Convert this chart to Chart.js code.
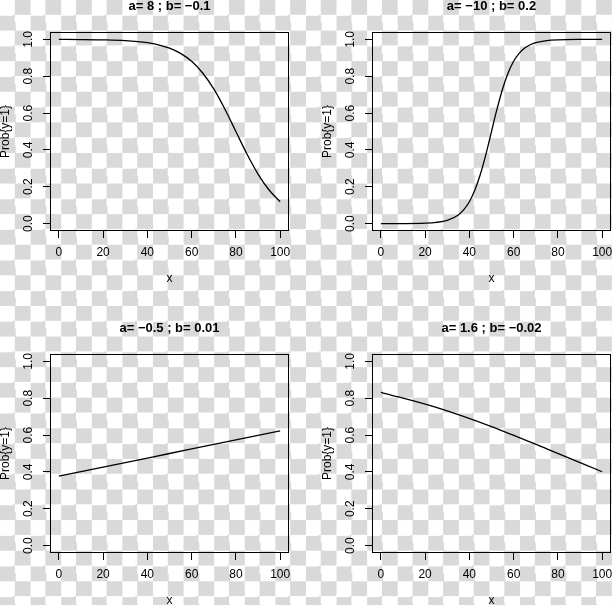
<!DOCTYPE html>
<html>
<head>
<meta charset="utf-8">
<script src="https://cdn.jsdelivr.net/npm/chart.js@4"></script>
<style>
  html, body { margin: 0; padding: 0; width: 612px; height: 605px; overflow: hidden; }
  body {
    background: repeating-conic-gradient(#d9d9d9 0% 25%, #ffffff 0% 50%) 0 0 / 30.6px 30.6px;
    position: relative;
  }
  .panel { position: absolute; width: 300px; height: 290px; }
  .panel canvas { display: block; }
</style>
</head>
<body>
<div class="panel" style="left:0;top:0"><canvas id="c1" width="300" height="290"></canvas></div>
<div class="panel" style="left:322px;top:0"><canvas id="c2" width="300" height="290"></canvas></div>
<div class="panel" style="left:0;top:322px"><canvas id="c3" width="300" height="290"></canvas></div>
<div class="panel" style="left:322px;top:322px"><canvas id="c4" width="300" height="290"></canvas></div>
<script>
// ---- data ----
const titles = ["a= 8 ; b= \u22120.1", "a= \u221210 ; b= 0.2", "a= \u22120.5 ; b= 0.01", "a= 1.6 ; b= \u22120.02"];

const x1 = [0, 10, 20, 30, 40, 45, 50, 55, 60, 65, 70, 75, 80, 85, 90, 95, 100];
const y1 = [0.9997, 0.9991, 0.9975, 0.9933, 0.982, 0.9707, 0.9526, 0.924, 0.881, 0.8176, 0.731, 0.6225, 0.5, 0.3775, 0.269, 0.1824, 0.119];

const x2 = [0, 10, 20, 25, 30, 35, 37.5, 40, 42.5, 45, 47.5, 50, 52.5, 55, 57.5, 60, 62.5, 65, 67.5, 70, 75, 80, 90, 100];
const y2 = [0.0000, 0.0003, 0.0025, 0.0067, 0.018, 0.047, 0.0759, 0.119, 0.1824, 0.269, 0.3775, 0.5, 0.6225, 0.731, 0.8176, 0.881, 0.924, 0.953, 0.9707, 0.982, 0.9933, 0.9975, 0.9997, 1.0];

const x3 = [0, 25, 50, 75, 100];
const y3 = [0.3775, 0.4378, 0.5, 0.5622, 0.6225];

const x4 = [0, 25, 50, 75, 100];
const y4 = [0.832, 0.750, 0.646, 0.525, 0.401];

const xTicks = [0, 20, 40, 60, 80, 100];
const yTicks = [0, 0.2, 0.4, 0.6, 0.8, 1.0];
const xTitle = "x";
const yTitle = "Prob{y=1}";

// ---- drawing ----
const FONT = "'Liberation Sans', Arial, Helvetica, sans-serif";

const boxPlugin = {
  id: 'rbox',
  afterDatasetsDraw(chart) {
    const {ctx, chartArea: a} = chart;
    ctx.save();
    ctx.strokeStyle = '#000';
    ctx.lineWidth = 1;
    ctx.strokeRect(Math.round(a.left) + 0.5, Math.round(a.top) + 0.5,
                   Math.round(a.right - a.left) - 1, Math.round(a.bottom - a.top) - 1);
    ctx.restore();
  }
};

function makeChart(id, title, xs, ys) {
  const data = xs.map((x, i) => ({x: x, y: ys[i]}));
  return new Chart(document.getElementById(id), {
    type: 'line',
    data: { datasets: [{
      data: data,
      borderColor: '#000',
      borderWidth: 1.3,
      pointRadius: 0,
      fill: false,
      cubicInterpolationMode: 'monotone'
    }]},
    options: {
      responsive: false,
      animation: false,
      events: [],
      layout: { padding: { top: 0, left: 0, right: 11, bottom: 0 } },
      plugins: {
        legend: { display: false },
        tooltip: { enabled: false },
        title: {
          display: true, text: title, color: '#000', fullSize: false,
          font: { family: FONT, size: 13, weight: 'bold', lineHeight: 1 },
          padding: { top: 0, bottom: 19 }
        }
      },
      scales: {
        x: {
          type: 'linear', min: -4, max: 104,
          afterBuildTicks: s => { s.ticks = xTicks.map(v => ({value: v})); },
          afterFit: s => { s.height = 59; s.paddingLeft = 0; s.paddingRight = 0; },
          ticks: { color: '#000', font: { family: FONT, size: 12 }, padding: 7,
                   maxRotation: 0, minRotation: 0, autoSkip: false,
                   callback: v => String(v) },
          grid: { display: true, drawOnChartArea: false, drawTicks: true, tickLength: 7, color: '#000', lineWidth: 1 },
          border: { display: false },
          title: { display: true, text: xTitle, color: '#000',
                   font: { family: FONT, size: 12, lineHeight: 1 }, padding: { top: 0, bottom: 5 } }
        },
        y: {
          type: 'linear', min: -0.04, max: 1.04,
          afterBuildTicks: s => { s.ticks = yTicks.map(v => ({value: v})); },
          afterFit: s => { s.width = 50; s.paddingTop = 0; s.paddingBottom = 0; },
          ticks: { color: '#000', font: { family: FONT, size: 12 }, padding: 6,
                   minRotation: 90, maxRotation: 90, crossAlign: 'center', autoSkip: false,
                   callback: v => v.toFixed(1) },
          grid: { display: true, drawOnChartArea: false, drawTicks: true, tickLength: 7, color: '#000', lineWidth: 1 },
          border: { display: false },
          title: { display: true, text: yTitle, color: '#000',
                   font: { family: FONT, size: 12, lineHeight: 1 }, padding: { top: 0, bottom: 0 } }
        }
      }
    },
    plugins: [boxPlugin]
  });
}

makeChart('c1', titles[0], x1, y1);
makeChart('c2', titles[1], x2, y2);
makeChart('c3', titles[2], x3, y3);
makeChart('c4', titles[3], x4, y4);
</script>
</body>
</html>
